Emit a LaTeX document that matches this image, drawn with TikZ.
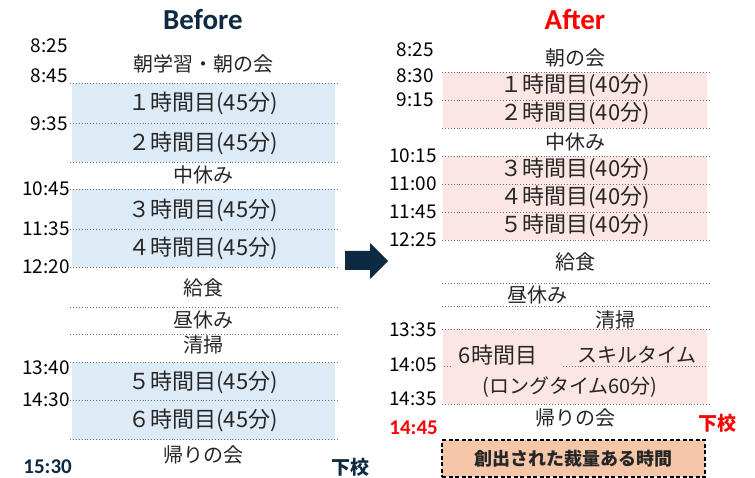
\documentclass[tikz,border=0pt]{standalone}
\usepackage{fontspec}
\setmainfont{Noto Sans CJK JP}
\newfontfamily\jpf{Noto Sans CJK JP}
\newfontfamily\carf{Carlito}
\definecolor{navy}{HTML}{0E2A42}
\definecolor{bluefill}{HTML}{DDEBF7}
\definecolor{pinkfill}{HTML}{FCE6E4}
\definecolor{peach}{HTML}{F6C6A8}
\definecolor{txt}{HTML}{262626}
\definecolor{dotc}{HTML}{707070}
\begin{document}
\begin{tikzpicture}[x=1pt,y=-1pt,
  lab/.style={font=\jpf\fontsize{20}{22}\selectfont, text=txt, inner sep=0pt},
  per/.style={font=\jpf\fontsize{22}{24}\selectfont, text=txt, inner sep=0pt},
  tm/.style={font=\jpf\fontsize{19}{21}\selectfont, text=black, anchor=east, inner sep=0pt},
  tmb/.style={font=\carf\bfseries\fontsize{21}{23}\selectfont, anchor=east, inner sep=0pt},
  sep/.style={dotc, dotted, line width=0.9pt},
  title/.style={font=\carf\bfseries\fontsize{29}{31}\selectfont, inner sep=0pt}]
\useasboundingbox (0,0) rectangle (755,478);
% ---------- Before ----------
\fill[bluefill] (72,83) rectangle (335,162);
\fill[bluefill] (72,189) rectangle (335,267);
\fill[bluefill] (72,362) rectangle (335,440);
\foreach \yy in {83,123,162,189,229,267,307,334,362,400,439}
  \draw[sep] (70,\yy) -- (337,\yy);
\node[title, text=navy] (tb) at (203,20) {Before};
\node[lab] (b0) at (203,64) {朝学習・朝の会};
\node[per] (b1) at (203,103) {１時間目(45分)};
\node[per] (b2) at (203,143) {２時間目(45分)};
\node[lab] (b3) at (203,175) {中休み};
\node[per] (b4) at (203,210) {３時間目(45分)};
\node[per] (b5) at (203,248) {４時間目(45分)};
\node[lab] (b6) at (203,288) {給食};
\node[lab] (b7) at (203,320) {昼休み};
\node[lab] (b8) at (203,345) {清掃};
\node[per] (b9) at (203,382) {５時間目(45分)};
\node[per] (b10) at (203,420) {６時間目(45分)};
\node[lab] (b11) at (203,455) {帰りの会};
\node[tm] (bt1) at (68,46) {8:25};
\node[tm] (bt2) at (68,76) {8:45};
\node[tm] (bt3) at (68,124) {9:35};
\node[tm] (bt4) at (70,189) {10:45};
\node[tm] (bt5) at (70,229) {11:35};
\node[tm] (bt6) at (70,267) {12:20};
\node[tm] (bt7) at (70,368) {13:40};
\node[tm] (bt8) at (70,400) {14:30};
\node[tmb, text=navy] (bt9) at (72,467) {15:30};
\node[font=\jpf\bfseries\fontsize{19}{21}\selectfont, text=navy, inner sep=0pt] (bg) at (350,467) {下校};
% ---------- arrow ----------
\fill[navy] (345,251) -- (370,251) -- (370,243) -- (388,261) -- (370,279) -- (370,270) -- (345,270) -- cycle;
% ---------- After ----------
\fill[pinkfill] (443,72) rectangle (707,128);
\fill[pinkfill] (443,156) rectangle (707,240);
\fill[pinkfill] (443,329) rectangle (707,404);
\foreach \yy in {72,100,128,156,184,212,240,283,306,329,404}
  \draw[sep] (442,\yy) -- (709,\yy);
\draw[sep] (444,366) -- (451,366);
\draw[sep] (563,366) -- (708,366);
\node[title, text=red] (ta) at (575,20) {After};
\node[lab] (a0) at (575,58) {朝の会};
\node[per] (a1) at (575,85) {１時間目(40分)};
\node[per] (a2) at (575,113) {２時間目(40分)};
\node[lab] (a3) at (575,142) {中休み};
\node[per] (a4) at (575,169) {３時間目(40分)};
\node[per] (a5) at (575,197) {４時間目(40分)};
\node[per] (a6) at (575,225) {５時間目(40分)};
\node[lab] (a7) at (575,262) {給食};
\node[lab] (a8) at (537,295) {昼休み};
\node[lab] (a9) at (615,320) {清掃};
\node[per] (a10) at (498,355) {6時間目};
\node[lab] (a11) at (637,355) {スキルタイム};
\node[lab] (a12) at (570,387) {(ロングタイム60分)};
\node[lab] (a13) at (575,418) {帰りの会};
\node[tm] (at1) at (434,50) {8:25};
\node[tm] (at2) at (434,76) {8:30};
\node[tm] (at3) at (434,100) {9:15};
\node[tm] (at4) at (437,156) {10:15};
\node[tm] (at5) at (437,184) {11:00};
\node[tm] (at6) at (437,212) {11:45};
\node[tm] (at7) at (437,240) {12:25};
\node[tm] (at8) at (437,330) {13:35};
\node[tm] (at9) at (437,365) {14:05};
\node[tm] (at10) at (437,399) {14:35};
\node[tmb, text=red] (at11) at (438,428) {14:45};
\node[font=\jpf\bfseries\fontsize{19}{21}\selectfont, text=red, inner sep=0pt] (ag) at (717,423) {下校};
\node[draw=black, fill=peach, dash pattern=on 4pt off 2.5pt, line width=1.6pt, minimum width=263pt, minimum height=37pt,
      font=\jpf\bfseries\fontsize{18}{20}\selectfont, text=txt, inner sep=0pt] (box) at (573.5,458.5) {創出された裁量ある時間};
\end{tikzpicture}
\end{document}
